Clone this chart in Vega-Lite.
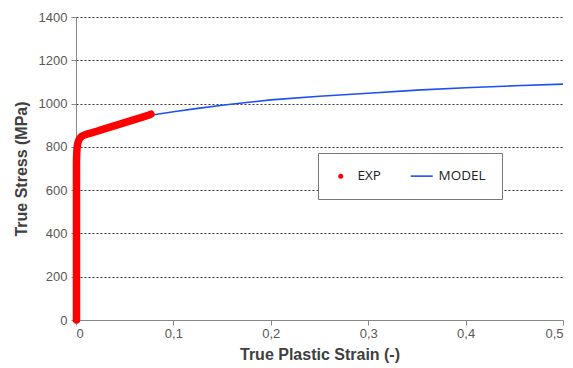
{
  "$schema": "https://vega.github.io/schema/vega-lite/v6.json",
  "width": 487,
  "height": 303,
  "autosize": {"type": "none"},
  "padding": {"left": 76, "top": 17, "right": 10, "bottom": 48},
  "background": "white",
  "config": {
    "view": {"stroke": null},
    "axis": {
      "labelFont": "Liberation Sans",
      "labelFontSize": 13,
      "labelColor": "#595959",
      "titleFont": "Liberation Sans",
      "titleFontSize": 16,
      "titleFontWeight": "bold",
      "titleColor": "#404040",
      "domainColor": "#888888",
      "tickColor": "#888888",
      "tickSize": 5
    }
  },
  "datasets": {
    "exp": [
      {"strain": 0.0005, "stress": 0, "series": "EXP"},
      {"strain": 0.0005, "stress": 100, "series": "EXP"},
      {"strain": 0.0005, "stress": 200, "series": "EXP"},
      {"strain": 0.0005, "stress": 300, "series": "EXP"},
      {"strain": 0.0005, "stress": 400, "series": "EXP"},
      {"strain": 0.0005, "stress": 500, "series": "EXP"},
      {"strain": 0.0005, "stress": 600, "series": "EXP"},
      {"strain": 0.0005, "stress": 700, "series": "EXP"},
      {"strain": 0.0005, "stress": 725, "series": "EXP"},
      {"strain": 0.0006, "stress": 750, "series": "EXP"},
      {"strain": 0.0008, "stress": 775, "series": "EXP"},
      {"strain": 0.0012, "stress": 800, "series": "EXP"},
      {"strain": 0.0018, "stress": 815, "series": "EXP"},
      {"strain": 0.0027, "stress": 829, "series": "EXP"},
      {"strain": 0.004, "stress": 840, "series": "EXP"},
      {"strain": 0.006, "stress": 849, "series": "EXP"},
      {"strain": 0.0085, "stress": 855, "series": "EXP"},
      {"strain": 0.012, "stress": 860, "series": "EXP"},
      {"strain": 0.016, "stress": 865, "series": "EXP"},
      {"strain": 0.02, "stress": 870, "series": "EXP"},
      {"strain": 0.025, "stress": 877, "series": "EXP"},
      {"strain": 0.03, "stress": 884, "series": "EXP"},
      {"strain": 0.035, "stress": 891, "series": "EXP"},
      {"strain": 0.04, "stress": 898, "series": "EXP"},
      {"strain": 0.045, "stress": 905, "series": "EXP"},
      {"strain": 0.05, "stress": 912, "series": "EXP"},
      {"strain": 0.055, "stress": 919, "series": "EXP"},
      {"strain": 0.06, "stress": 926, "series": "EXP"},
      {"strain": 0.065, "stress": 933, "series": "EXP"},
      {"strain": 0.07, "stress": 940, "series": "EXP"},
      {"strain": 0.075, "stress": 947, "series": "EXP"},
      {"strain": 0.077, "stress": 951, "series": "EXP"}
    ],
    "model": [
      {"strain": 0.005, "stress": 848, "series": "MODEL"},
      {"strain": 0.01, "stress": 858, "series": "MODEL"},
      {"strain": 0.02, "stress": 870, "series": "MODEL"},
      {"strain": 0.03, "stress": 882, "series": "MODEL"},
      {"strain": 0.04, "stress": 895, "series": "MODEL"},
      {"strain": 0.05, "stress": 908, "series": "MODEL"},
      {"strain": 0.06, "stress": 922, "series": "MODEL"},
      {"strain": 0.07, "stress": 936, "series": "MODEL"},
      {"strain": 0.08, "stress": 948, "series": "MODEL"},
      {"strain": 0.1, "stress": 962, "series": "MODEL"},
      {"strain": 0.125, "stress": 978, "series": "MODEL"},
      {"strain": 0.15, "stress": 992, "series": "MODEL"},
      {"strain": 0.175, "stress": 1005, "series": "MODEL"},
      {"strain": 0.2, "stress": 1017, "series": "MODEL"},
      {"strain": 0.25, "stress": 1034, "series": "MODEL"},
      {"strain": 0.3, "stress": 1048, "series": "MODEL"},
      {"strain": 0.35, "stress": 1062, "series": "MODEL"},
      {"strain": 0.4, "stress": 1073, "series": "MODEL"},
      {"strain": 0.45, "stress": 1082, "series": "MODEL"},
      {"strain": 0.5, "stress": 1090, "series": "MODEL"}
    ]
  },
  "encoding": {
    "x": {
      "field": "strain",
      "type": "quantitative",
      "scale": {"domain": [0, 0.5], "nice": false, "zero": true},
      "axis": {
        "title": "True Plastic Strain (-)",
        "values": [0, 0.1, 0.2, 0.3, 0.4, 0.5],
        "labelExpr": "replace(format(datum.value, '~g'), '.', ',')",
        "grid": false,
        "labelPadding": 2,
        "titlePadding": 6
      }
    },
    "y": {
      "field": "stress",
      "type": "quantitative",
      "scale": {"domain": [0, 1400], "nice": false},
      "axis": {
        "title": "True Stress (MPa)",
        "values": [0, 200, 400, 600, 800, 1000, 1200, 1400],
        "format": "d",
        "grid": true,
        "gridColor": "#333333",
        "gridDash": [2, 2],
        "gridWidth": 1,
        "labelPadding": 4,
        "titlePadding": 9
      }
    },
    "color": {
      "field": "series",
      "type": "nominal",
      "scale": {"domain": ["EXP", "MODEL"], "range": ["#ff0000", "#1f4ff5"]},
      "legend": {
        "title": null,
        "orient": "none",
        "direction": "horizontal",
        "legendX": 242,
        "legendY": 136,
        "padding": 16,
        "strokeColor": "#777777",
        "fillColor": "white",
        "labelFont": "Open Sans",
        "labelFontSize": 13.5,
        "labelColor": "#222222",
        "symbolSize": 484,
        "labelOffset": 10,
        "columnPadding": 26,
        "encode": {
          "symbols": {
            "update": {
              "shape": {"signal": "datum.value === 'EXP' ? 'circle' : 'stroke'"},
              "size": {"signal": "datum.value === 'EXP' ? 25 : 484"},
              "strokeWidth": {"signal": "datum.value === 'EXP' ? 0 : 1.6"},
              "fill": {"signal": "datum.value === 'EXP' ? '#ff0000' : 'transparent'"},
              "stroke": {"signal": "datum.value === 'EXP' ? '#ff0000' : '#1f4ff5'"},
              "opacity": {"value": 1}
            }
          }
        }
      }
    }
  },
  "layer": [
    {
      "data": {"name": "model"},
      "mark": {"type": "line", "strokeWidth": 1.6, "clip": true}
    },
    {
      "data": {"name": "exp"},
      "mark": {"type": "line", "strokeWidth": 7.5, "strokeCap": "round", "strokeJoin": "round", "clip": false}
    }
  ]
}
